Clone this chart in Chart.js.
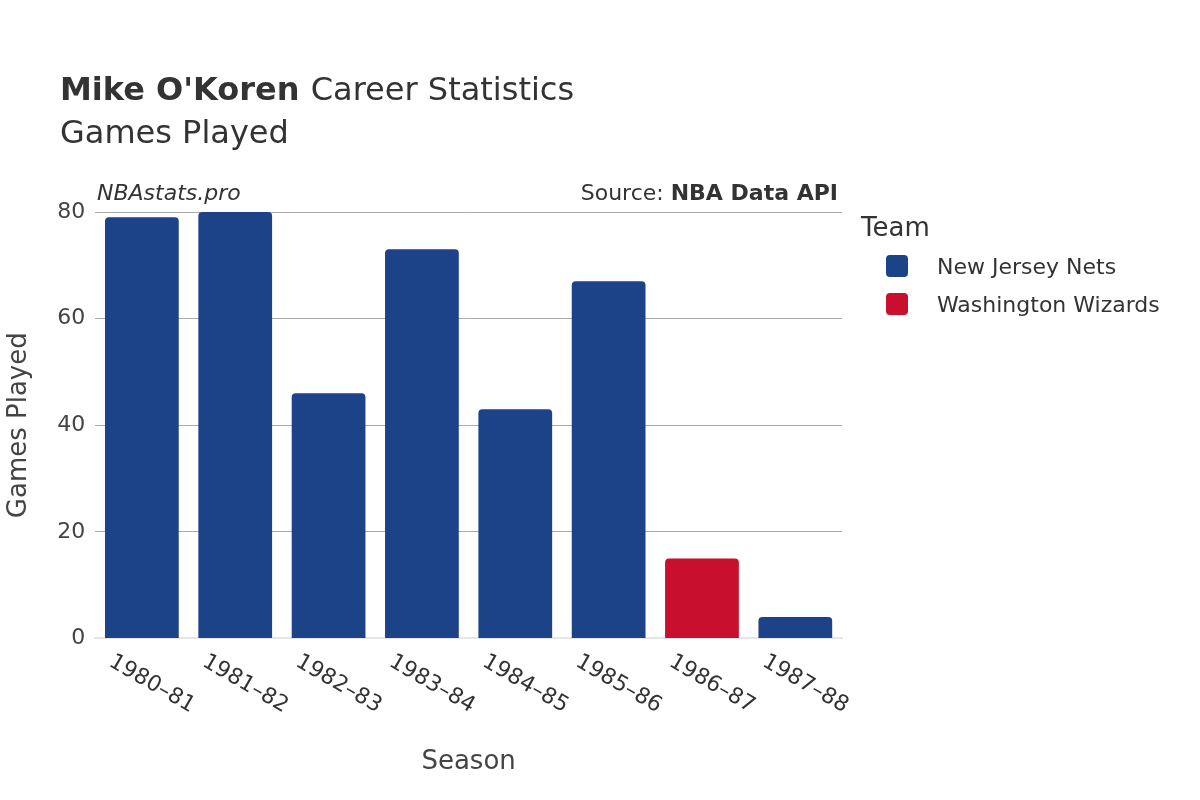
<!DOCTYPE html>
<html lang="en">
<head>
  <meta charset="UTF-8">
  <title>Mike O'Koren Career Statistics</title>
  <script src="https://cdn.jsdelivr.net/npm/chart.js"></script>
  <style>
    body { margin: 0; background: #fff; }
    #wrap { width: 1200px; height: 800px; }
  </style>
</head>
<body>
  <div id="wrap"><canvas id="chart"></canvas></div>
  <script>
    // Chart data
    const seasons = ['1980–81', '1981–82', '1982–83', '1983–84', '1984–85', '1985–86', '1986–87', '1987–88'];
    const netsGames = [79, 80, 46, 73, 43, 67, null, 4];
    const wizardsGames = [null, null, null, null, null, null, 15, null];
    const teamNames = ['New Jersey Nets', 'Washington Wizards'];
    const teamColors = ['#1c4287', '#c8102e'];
    const yTicks = [0, 20, 40, 60, 80];

    const FONT = '"DejaVu Sans", "Noto Sans", sans-serif';

    const decor = {
      id: 'decor',
      afterDraw(chart) {
        const ctx = chart.ctx;
        const area = chart.chartArea;
        ctx.save();
        ctx.fillStyle = '#333';
        ctx.textBaseline = 'alphabetic';
        // title
        ctx.textAlign = 'left';
        ctx.font = 'bold 32px ' + FONT;
        ctx.fillText("Mike O'Koren", 60, 100);
        const w = ctx.measureText("Mike O'Koren ").width;
        ctx.font = '32px ' + FONT;
        ctx.fillText('Career Statistics', 60 + w, 100);
        ctx.fillText('Games Played', 60, 143);
        // watermark + source
        ctx.font = 'italic 22px ' + FONT;
        ctx.fillText('NBAstats.pro', 97, 200);
        ctx.textAlign = 'right';
        ctx.font = 'bold 22px ' + FONT;
        ctx.fillText('NBA Data API', area.right - 4, 200);
        const sw = ctx.measureText('NBA Data API').width;
        ctx.font = '22px ' + FONT;
        ctx.fillText('Source: ', area.right - 4 - sw, 200);
        // x tick labels rotated
        const xs = chart.scales.x;
        ctx.font = '22px ' + FONT;
        ctx.textAlign = 'left';
        seasons.forEach((s, i) => {
          const x = xs.getPixelForValue(i);
          ctx.save();
          ctx.translate(x - 30, area.bottom + 20);
          ctx.rotate(Math.PI / 6);
          ctx.fillText(s, 0, 8);
          ctx.restore();
        });
        // legend
        ctx.textAlign = 'left';
        ctx.font = '26px ' + FONT;
        ctx.fillText('Team', 861, 236);
        ctx.font = '22px ' + FONT;
        teamNames.forEach((n, i) => {
          const y = 266 + i * 38;
          ctx.fillStyle = teamColors[i];
          ctx.beginPath();
          ctx.roundRect(886, y - 11, 22, 22, 4);
          ctx.fill();
          ctx.fillStyle = '#333';
          ctx.fillText(n, 937, y + 8);
        });
        ctx.restore();
      }
    };

    new Chart(document.getElementById('chart'), {
      type: 'bar',
      data: {
        labels: seasons,
        datasets: [
          { label: teamNames[0], data: netsGames, backgroundColor: teamColors[0], borderRadius: 4, borderSkipped: 'bottom' },
          { label: teamNames[1], data: wizardsGames, backgroundColor: teamColors[1], borderRadius: 4, borderSkipped: 'bottom' }
        ]
      },
      options: {
        responsive: true,
        maintainAspectRatio: false,
        animation: false,
        layout: { padding: { top: 212, right: 358, bottom: 0, left: 0 } },
        datasets: { bar: { grouped: false, categoryPercentage: 0.79, barPercentage: 1 } },
        plugins: { legend: { display: false }, title: { display: false }, tooltip: { enabled: false } },
        scales: {
          x: {
            grid: { display: false },
            border: { color: '#e6e6e6', width: 2 },
            ticks: { display: true, color: 'rgba(0,0,0,0)', font: { size: 22, family: FONT }, maxRotation: 30, minRotation: 30, padding: 10 },
            title: { display: true, text: 'Season', color: '#444', font: { size: 26, family: FONT }, padding: { top: 10, bottom: 22 } }
          },
          y: {
            min: 0, max: 80,
            afterBuildTicks(scale) { scale.ticks = yTicks.map(v => ({ value: v })); },
            grid: { color: '#aaa', drawTicks: false },
            border: { display: false },
            ticks: { color: '#444', font: { size: 22, family: FONT }, padding: 10 },
            title: { display: true, text: 'Games Played', color: '#444', font: { size: 26, family: FONT }, padding: { bottom: 12 } }
          }
        }
      },
      plugins: [decor]
    });
  </script>
</body>
</html>
